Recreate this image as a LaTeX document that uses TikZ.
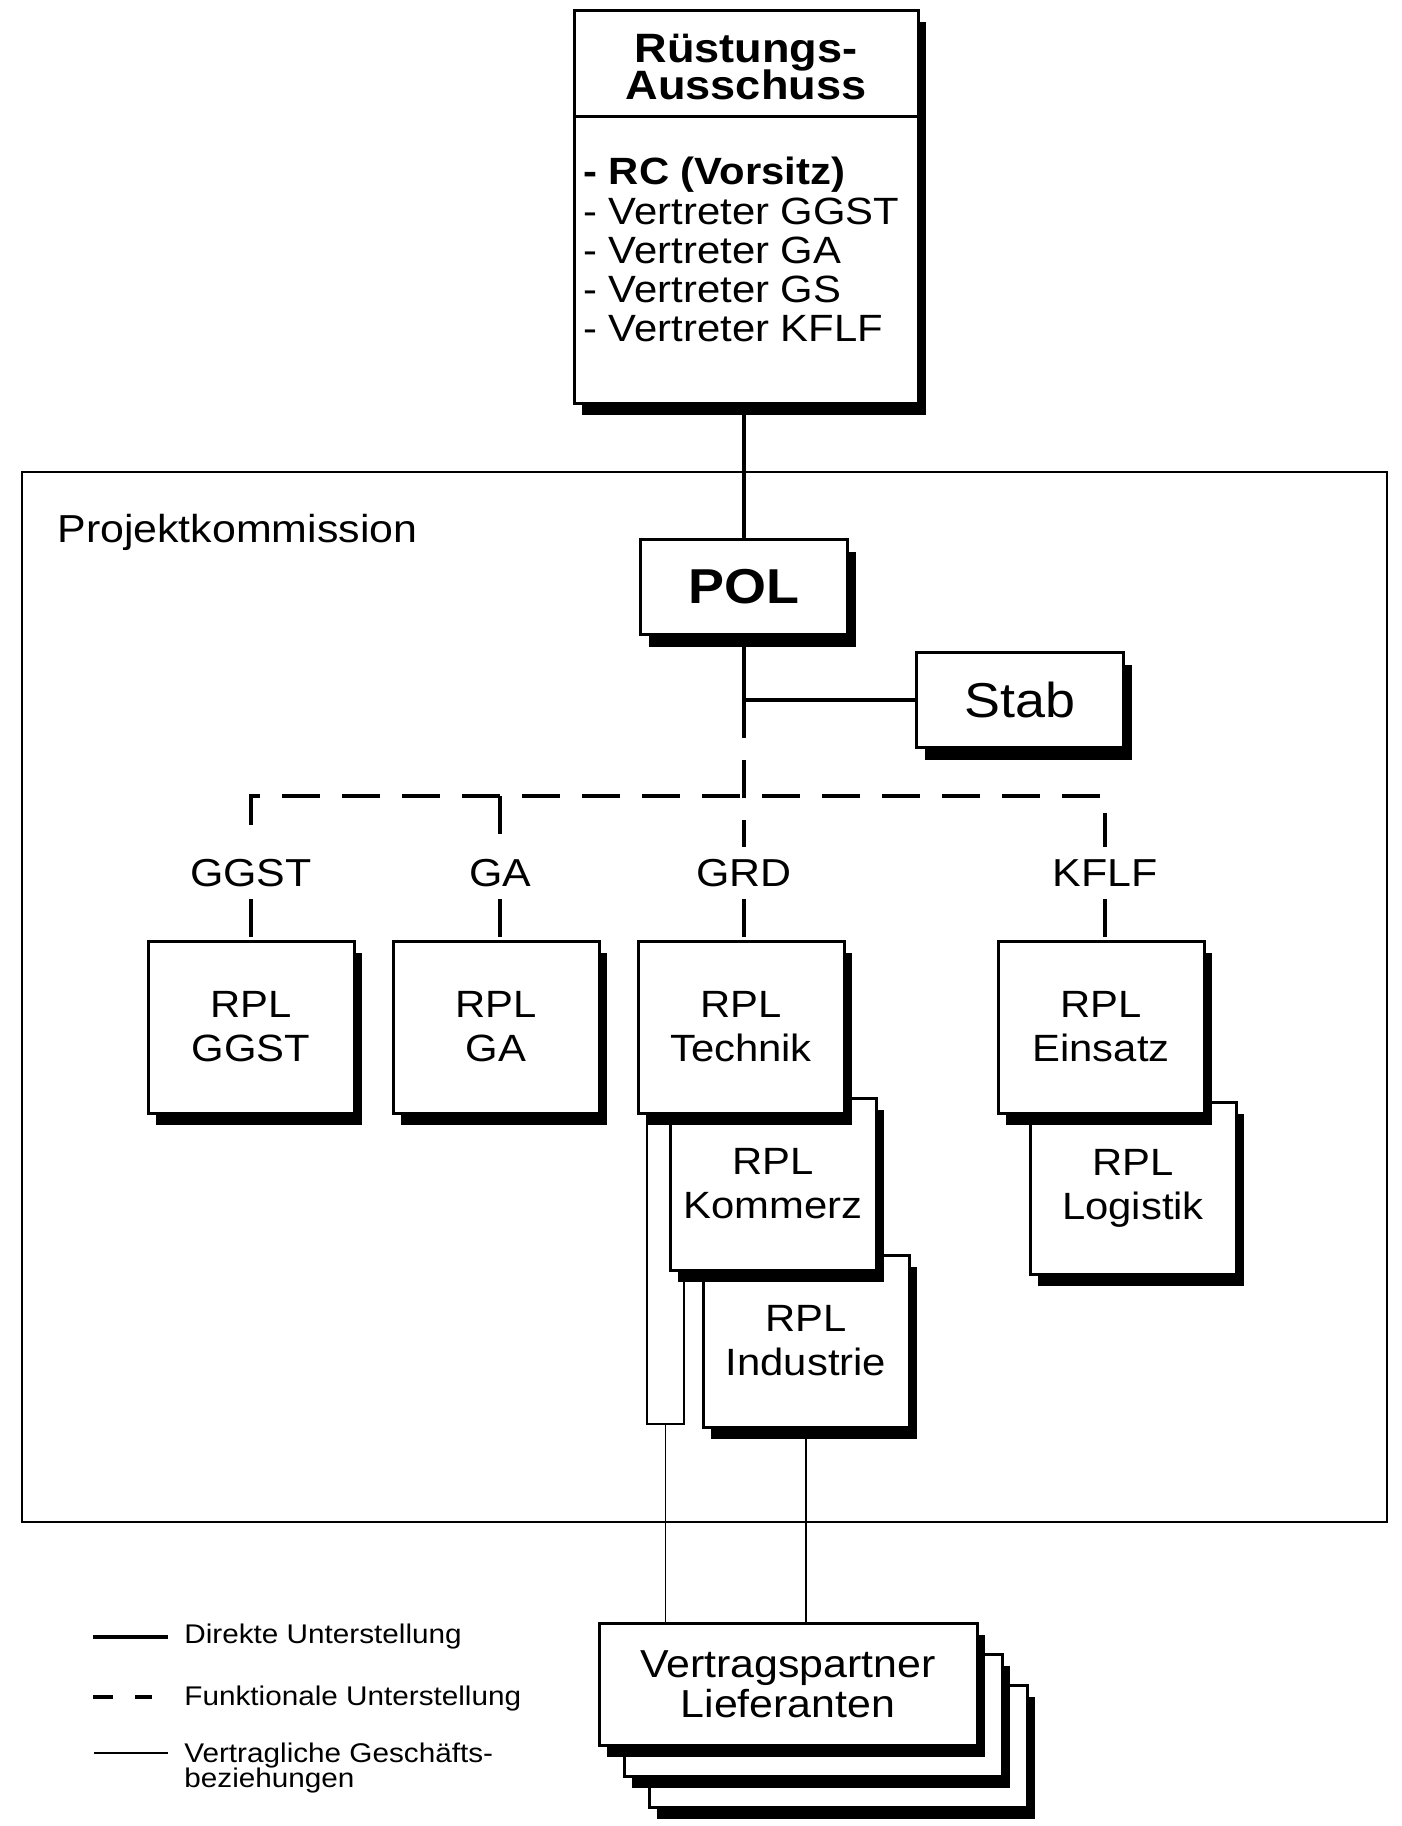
\documentclass[tikz,border=0pt]{standalone}
\usepackage{fontspec}
\setmainfont{Liberation Sans}[FakeStretch=1.1]
\usetikzlibrary{shadows}
\newcommand{\fsize}[2]{\fontsize{#1}{#2}\selectfont\lineskiplimit=-30pt\lineskip=0pt}

\begin{document}
\begin{tikzpicture}[x=0.5pt,y=-0.5pt,
  box/.style={draw,line width=1.5pt,fill=white,inner sep=0pt,align=center,
    drop shadow={shadow xshift=4pt,shadow yshift=-6pt,fill=black,opacity=1}},
  rpl/.style={box,minimum width=103pt,minimum height=86pt,font=\fsize{19}{22}},
  sheet/.style={box,minimum width=189pt,minimum height=61pt,font=\fsize{19.5}{20}},
  branch/.style={inner sep=6pt,font=\fsize{19.5}{20}},
  direct/.style={line width=1.7pt},
  functional/.style={line width=1.8pt,dash pattern=on 19pt off 11pt},
  contract/.style={line width=0.7pt},
  legendtext/.style={inner sep=0pt,font=\fsize{13.5}{12.5}}]
  \useasboundingbox (0,0) rectangle (1402,1826);

  % Projektkommission
  \draw[line width=1.1pt] (22,472) rectangle (1387,1522);
  \node[anchor=base west,inner sep=0pt,font=\fsize{19.5}{20}] (pk) at (57,542) {Projektkommission};

  % Ruestungs-Ausschuss
  \node[box,minimum width=172pt,minimum height=196.5pt] (ra) at (746,206.5) {};
  \coordinate (div) at (0,116);
  \draw[line width=1.5pt] (ra.west |- div) -- (ra.east |- div);
  \node[inner sep=0pt,align=center,font=\bfseries\fsize{20.5}{18.5}] (ratitle) at (746,67) {Rüstungs-\\Ausschuss};
  \node[anchor=north west,inner sep=0pt,align=left,font=\fsize{19}{19.6}] (ralist) at (583,157)
    {\textbf{- RC (Vorsitz)}\\- Vertreter GGST\\- Vertreter GA\\- Vertreter GS\\- Vertreter KFLF};

  % POL and Stab
  \node[box,minimum width=103.5pt,minimum height=47.5pt,font=\bfseries\fsize{24.5}{25}] (pol) at (744,587) {POL};
  \node[box,minimum width=103.5pt,minimum height=47.5pt,font=\fsize{24.5}{25}] (stab) at (1020,700) {Stab};
  \coordinate (jn) at (pol.south |- stab.west);
  \draw[direct] (pol.north |- ra.south) -- (pol.north);
  \draw[direct] (pol.south) -- (jn) -- (stab.west);

  % branches
  \coordinate (hbar) at (0,796);
  \node[branch] (ggst) at (251,873) {GGST};
  \node[branch] (ga) at (500,873) {GA};
  \node[branch] (grd) at (744,873) {GRD};
  \node[branch] (kflf) at (1105,873) {KFLF};
  \draw[functional,dash phase=19pt] (ggst.north) -- (ggst.north |- hbar) -- (kflf.north |- hbar) -- (kflf.north);
  \draw[functional] (ga.north |- hbar) -- (ga.north);
  \draw[functional] (jn) -- (grd.north);

  % RPL boxes, back to front
  \node[draw,contract,inner sep=0pt,minimum width=18.5pt,minimum height=155.5pt] (link) at (665.5,1268.5) {};
  \node[rpl] (rind) at (806,1341) {RPL\\Industrie};
  \node[rpl] (rkom) at (773,1184) {RPL\\Kommerz};
  \node[rpl] (rtech) at (741,1027) {RPL\\Technik};
  \node[rpl] (rlog) at (1133,1188) {RPL\\Logistik};
  \node[rpl] (rein) at (1101,1027) {RPL\\Einsatz};
  \node[rpl] (rggst) at (251,1027) {RPL\\GGST};
  \node[rpl] (rga) at (496,1027) {RPL\\GA};
  \draw[functional] (ggst.south) -- (ggst.south |- rggst.north);
  \draw[functional] (ga.south) -- (ga.south |- rga.north);
  \draw[functional] (grd.south) -- (grd.south |- rtech.north);
  \draw[functional] (kflf.south) -- (kflf.south |- rein.north);

  % Vertragspartner
  \node[sheet] (vp3) at (838,1746) {};
  \node[sheet] (vp2) at (813,1715) {};
  \node[sheet] (vp1) at (788,1684) {Vertragspartner\\Lieferanten};
  \draw[contract] (link.south) -- (link.south |- vp1.north);
  \draw[contract] (rind.south) -- (rind.south |- vp1.north);

  % legend
  \node[legendtext,anchor=base west] (lg1) at (184,1643) {Direkte Unterstellung};
  \node[legendtext,anchor=base west] (lg2) at (184,1705) {Funktionale Unterstellung};
  \node[legendtext,anchor=north west,align=left] (lg3) at (184,1743) {Vertragliche Geschäfts-\\beziehungen};
  \draw[direct] (93,1637) -- (168,1637);
  \draw[line width=1.8pt,dash pattern=on 10pt off 11pt] (93,1697) -- (152,1697);
  \draw[contract] (94,1753) -- (168,1753);
\end{tikzpicture}
\end{document}
